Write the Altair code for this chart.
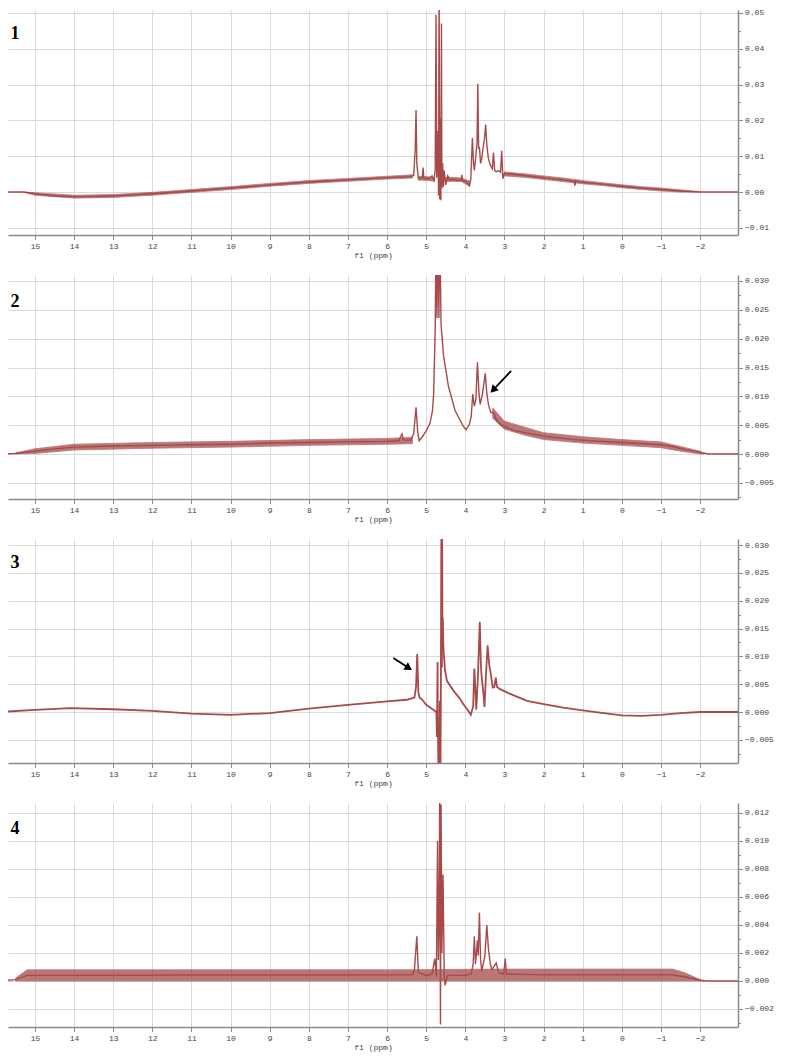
import altair as alt
import pandas as pd

# ---------------- data ----------------
PANEL_LABELS = ["1", "2", "3", "4"]

# Panel 1 trace (ppm, intensity)
P1_PPM = [15.9, 15.3, 15.0, 14.5, 14.0, 13.5, 13.0, 12.5, 12.0, 11.0, 10.0, 9.0, 8.0, 7.0, 6.0, 5.4,
          5.32, 5.28, 5.26, 5.24, 5.2, 5.1, 5.08, 5.06, 4.95, 4.85, 4.8, 4.77, 4.75, 4.73, 4.7, 4.685,
          4.67, 4.655, 4.64, 4.625, 4.61, 4.6, 4.58, 4.56, 4.54, 4.5, 4.45, 4.4, 4.3, 4.2, 4.1, 4.09,
          4.07, 4.0, 3.95, 3.9, 3.86, 3.82, 3.79, 3.77, 3.74, 3.7, 3.68, 3.66, 3.64, 3.61, 3.58, 3.55,
          3.51, 3.48, 3.45, 3.41, 3.36, 3.31, 3.28, 3.25, 3.21, 3.15, 3.1, 3.07, 3.04, 3.0, 2.5, 2.0,
          1.5, 1.22, 1.2, 1.18, 1.0, 0.5, 0.0, -0.5, -1.0, -1.5, -2.0, -2.97]
P1_INT = [0.0, 0.0, -0.0005, -0.0011, -0.0013, -0.0013, -0.0011, -0.0008, -0.0005, 0.0003, 0.0011,
          0.002, 0.0028, 0.0034, 0.004, 0.0043, 0.0046, 0.012, 0.0229, 0.008, 0.0038, 0.004, 0.0068,
          0.0038, 0.0037, 0.0045, 0.0032, 0.006, 0.0495, 0.004, 0.017, -0.001, 0.06, -0.002, 0.0205,
          -0.0023, 0.047, 0.001, 0.008, 0.0015, 0.006, 0.002, 0.0045, 0.0034, 0.0035, 0.0032, 0.0034,
          0.0048, 0.003, 0.003, 0.0025, 0.0017, 0.0035, 0.0151, 0.008, 0.006, 0.009, 0.014, 0.0302,
          0.012, 0.0126, 0.008, 0.0093, 0.012, 0.015, 0.0188, 0.013, 0.0093, 0.0075, 0.0065, 0.011,
          0.006, 0.0056, 0.006, 0.0055, 0.0115, 0.0037, 0.0052, 0.0046, 0.004, 0.0034, 0.003, 0.0018,
          0.003, 0.0027, 0.0022, 0.0016, 0.0011, 0.0007, 0.0003, 0.0, 0.0]
# Panel 1 noise band (segment, ppm, low, high)
P1_BAND_SEG = ["a"] * 12 + ["b"] * 3 + ["c"] * 4 + ["d"] * 11
P1_BAND_PPM = [15.3, 15.0, 14.0, 13.0, 12.0, 11.0, 10.0, 9.0, 8.0, 7.0, 6.0, 5.35,
               5.2, 5.0, 4.8,
               4.5, 4.3, 4.1, 3.88,
               3.0, 2.5, 2.0, 1.5, 1.0, 0.5, 0.0, -0.5, -1.0, -1.5, -2.0]
P1_BAND_LO = [0.0, -0.0009, -0.0017, -0.0015, -0.0009, -0.0001, 0.0007, 0.0016, 0.0024, 0.003, 0.0036, 0.0039,
              0.0033, 0.0033, 0.0030,
              0.0029, 0.003, 0.0029, 0.0016,
              0.0045, 0.0041, 0.0035, 0.0029, 0.0023, 0.0018, 0.0012, 0.0007, 0.0003, 0.0, 0.0]
P1_BAND_HI = [0.0, -0.0002, -0.0009, -0.0007, -0.0001, 0.0007, 0.0015, 0.0024, 0.0032, 0.0038, 0.0044, 0.0048,
              0.0044, 0.0043, 0.0040,
              0.0041, 0.0041, 0.0039, 0.0030,
              0.0056, 0.0051, 0.0045, 0.0039, 0.0032, 0.0026, 0.002, 0.0015, 0.0011, 0.0006, 0.0001]

# Panel 2 trace
P2_PPM = [15.9, 15.5, 15.0, 14.5, 14.0, 13.0, 12.0, 11.0, 10.0, 9.0, 8.0, 7.0, 6.0, 5.7, 5.62, 5.58,
          5.4, 5.32, 5.26, 5.22, 5.18, 5.1, 5.0, 4.9, 4.84, 4.81, 4.77, 4.745, 4.725, 4.7, 4.675, 4.655,
          4.62, 4.56, 4.43, 4.26, 4.05, 3.98, 3.9, 3.85, 3.81, 3.77, 3.73, 3.69, 3.65, 3.62, 3.56, 3.49,
          3.45, 3.41, 3.35, 3.28, 3.2, 3.1, 2.77, 2.0, 1.23, 0.5, 0.0, -1.0, -1.3, -1.6, -2.0, -2.2, -2.97]
P2_INT = [0.0, 0.0001, 0.0005, 0.0009, 0.0012, 0.0014, 0.0015, 0.0016, 0.0017, 0.0019, 0.002, 0.0021,
          0.0022, 0.0023, 0.0035, 0.0024, 0.0024, 0.0035, 0.0081, 0.004, 0.0023, 0.003, 0.004, 0.0054,
          0.0075, 0.0103, 0.0216, 0.04, 0.0236, 0.04, 0.0236, 0.04, 0.0225, 0.0172, 0.0117, 0.0075,
          0.0048, 0.0042, 0.0051, 0.0065, 0.0104, 0.0083, 0.0095, 0.0159, 0.0105, 0.0086, 0.0105, 0.014,
          0.0105, 0.0086, 0.0072, 0.0072, 0.0058, 0.0051, 0.0041, 0.0031, 0.0025, 0.0022, 0.002, 0.0016,
          0.0013, 0.0008, 0.0003, 0.0, 0.0]
P2_BAND_SEG = ["a"] * 8 + ["b"] * 10
P2_BAND_PPM = [15.5, 15.0, 14.0, 12.0, 10.0, 8.0, 6.0, 5.35,
               3.3, 3.0, 2.5, 2.0, 1.0, 0.0, -1.0, -1.5, -2.0, -2.1]
P2_BAND_LO = [0.0, 0.0001, 0.0007, 0.001, 0.0012, 0.0015, 0.0017, 0.0018,
              0.0062, 0.0043, 0.0033, 0.0025, 0.0019, 0.0015, 0.0011, 0.0005, 0.0, 0.0]
P2_BAND_HI = [0.0002, 0.0009, 0.0017, 0.002, 0.0022, 0.0025, 0.0027, 0.0029,
              0.008, 0.0057, 0.0047, 0.0037, 0.003, 0.0025, 0.0021, 0.0013, 0.0005, 0.0]

# Panel 3 trace
P3_PPM = [15.9, 15.0, 14.1, 13.0, 12.0, 11.0, 10.0, 9.0, 8.0, 7.0, 6.0, 5.5, 5.3, 5.26, 5.23, 5.2,
          5.17, 5.1, 5.0, 4.9, 4.8, 4.74, 4.725, 4.71, 4.7, 4.685, 4.675, 4.665, 4.65, 4.635, 4.625,
          4.61, 4.6, 4.595, 4.585, 4.575, 4.56, 4.52, 4.47, 4.3, 4.15, 4.05, 3.95, 3.86, 3.8, 3.77,
          3.74, 3.72, 3.68, 3.63, 3.6, 3.58, 3.54, 3.51, 3.47, 3.43, 3.39, 3.36, 3.3, 3.26, 3.22, 3.19,
          3.11, 2.9, 2.42, 2.0, 1.5, 1.0, 0.56, 0.0, -0.5, -1.0, -1.5, -2.0, -2.97]
P3_INT = [0.0, 0.0004, 0.0007, 0.0005, 0.0002, -0.0003, -0.0005, -0.0002, 0.0006, 0.0013, 0.0019,
          0.0022, 0.0026, 0.0045, 0.0104, 0.0035, 0.0026, 0.0022, 0.0013, 0.0008, 0.0003, 0.0, -0.0045,
          0.009, -0.003, -0.012, -0.004, -0.012, 0.002, -0.012, 0.005, 0.04, 0.008, 0.04, 0.0152,
          0.0169, 0.0115, 0.0075, 0.0056, 0.0038, 0.0025, 0.0014, 0.0005, -0.0005, 0.001, 0.0078,
          0.0035, 0.0004, 0.006, 0.0162, 0.008, 0.0062, 0.0035, 0.0009, 0.007, 0.012, 0.0085, 0.0074,
          0.0044, 0.0045, 0.0062, 0.0045, 0.0041, 0.0034, 0.002, 0.0014, 0.0008, 0.0003, -0.0001,
          -0.0006, -0.0007, -0.0005, -0.0002, 0.0, 0.0]

# Panel 4 trace
P4_PPM = [15.9, 15.5, 15.2, 5.35, 5.3, 5.24, 5.2, 5.0, 4.85, 4.78, 4.74, 4.71, 4.69, 4.67, 4.655,
          4.635, 4.62, 4.6, 4.57, 4.54, 4.52, 4.45, 4.0, 3.85, 3.8, 3.77, 3.74, 3.69, 3.67, 3.64, 3.61,
          3.58, 3.5, 3.45, 3.41, 3.36, 3.32, 3.21, 3.15, 3.02, 2.98, 2.95, 2.0, -1.3, -1.6, -2.0, -2.2,
          -2.97]
P4_INT = [0.0, 0.0001, 0.0004, 0.00044, 0.0008, 0.0032, 0.0006, 0.0004, 0.0005, 0.0016, 0.0003,
          0.01, 0.0015, 0.0047, 0.0128, -0.0031, 0.0126, 0.002, 0.0076, 0.0006, -0.0003, 0.0004, 0.0004,
          0.0005, 0.0012, 0.0032, 0.0012, 0.0029, 0.0018, 0.0049, 0.0015, 0.0007, 0.0018, 0.004, 0.0023,
          0.0012, 0.0008, 0.0013, 0.0006, 0.0005, 0.0016, 0.0005, 0.00044, 0.00044, 0.0003, 0.00005,
          0.0, 0.0]
P4_BAND_SEG = ["a"] * 8
P4_BAND_PPM = [15.5, 15.2, 5.35, 3.3, -1.3, -1.6, -2.0, -2.1]
P4_BAND_LO = [0.0, 0.0, 0.0, 0.0, 0.0, 0.0, 0.0, 0.0]
P4_BAND_HI = [0.0002, 0.0008, 0.0008, 0.00085, 0.00085, 0.0006, 0.0001, 0.0]

# Annotation arrows (tail ppm, tail intensity, head ppm, head intensity)
ARROW_P2 = [2.83, 0.0144, 3.29, 0.0111]
ARROW_P3 = [5.84, 0.0097, 5.445, 0.0079]

# axis tick values
X_TICKS = list(range(-2, 16))
Y1_TICKS = [v / 1000 for v in range(-10, 55, 5)]
Y2_TICKS = [v / 10000 for v in range(-75, 301, 25)]
Y3_TICKS = [v / 10000 for v in range(-75, 301, 25)]
Y4_TICKS = [v / 10000 for v in range(-30, 121, 10)]

# ---------------- styling ----------------
LINE_COLOR = "#a84a4a"
BAND_COLOR = "#a04444"
GRID = "#dadada"
AX = "#8a8a8a"
TXT = "#444444"
FONT = "Liberation Mono"
X_DOMAIN = [15.69, -2.97]
W = 730


def cond(test, a, b):
    return {"condition": {"test": test, "value": a}, "value": b}


def minor_test(step):
    return f"abs(datum.value / {step} - round(datum.value / {step})) > 0.01"


def x_axis():
    return alt.Axis(values=X_TICKS, format="d", grid=True, gridColor=GRID,
                    tickSize=4.5, tickColor=AX, domainColor=AX, domainWidth=1.5,
                    labelFont=FONT, labelFontSize=8, labelColor=TXT, labelPadding=3,
                    labelFlush=False, labelOverlap=False,
                    title="f1 (ppm)", titleFont=FONT, titleFontSize=8, titleFontWeight="normal",
                    titleColor=TXT, titlePadding=1)


def y_axis(ticks, step, fmt):
    minor = minor_test(step)
    return alt.Axis(orient="right", values=ticks, format=fmt, grid=True, gridColor=GRID,
                    gridOpacity=cond(minor, 0, 1), tickSize=cond(minor, 2.5, 4.5),
                    tickColor=AX, domainColor=AX, domainWidth=1.5,
                    labelExpr=f"({minor}) ? '' : datum.label",
                    labelFont=FONT, labelFontSize=8, labelColor=TXT, labelPadding=2,
                    labelFlush=False, labelOverlap=False, title=None)


def panel(idx, ppm, inten, band, ydom, yticks, ystep, yfmt, height, label_y, arrow=None, lw=1.4):
    xs = alt.Scale(domain=X_DOMAIN, nice=False, zero=False)
    ys = alt.Scale(domain=ydom, nice=False, zero=False)
    X = alt.X("ppm:Q", scale=xs, axis=x_axis())
    Y = alt.Y("v:Q", scale=ys, axis=y_axis(yticks, ystep, yfmt))
    layers = []
    if band is not None:
        seg, bp, lo, hi = band
        bdf = pd.DataFrame({"seg": seg, "ppm": bp, "v": lo, "hi": hi})
        layers.append(alt.Chart(bdf).mark_area(color=BAND_COLOR, opacity=0.72, clip=True,
                                               stroke=BAND_COLOR, strokeWidth=0.8,
                                               orient="vertical").encode(
            x=X, y=Y, y2="hi:Q", detail="seg:N"))
    df = pd.DataFrame({"ppm": ppm, "v": inten})
    layers.append(alt.Chart(df).mark_line(color=LINE_COLOR, strokeWidth=lw, clip=True).encode(
        x=X, y=Y, order=alt.Order("ppm:Q", sort="descending")))
    ldf = pd.DataFrame({"t": [PANEL_LABELS[idx]]})
    layers.append(alt.Chart(ldf).mark_text(font="Liberation Serif", fontSize=18, fontWeight="bold",
                                           color="black", align="center", baseline="middle").encode(
        text="t:N", x=alt.value(7), y=alt.value(label_y)))
    if arrow is not None:
        adf = pd.DataFrame({"ppm": [arrow[0]], "v": [arrow[1]], "ppm2": [arrow[2]], "v2": [arrow[3]]})
        layers.append(alt.Chart(adf).mark_rule(color="black", strokeWidth=1.8).encode(
            x=X, y=Y, x2="ppm2:Q", y2="v2:Q"))
        hdf = pd.DataFrame({"ppm": [arrow[2]], "v": [arrow[3]]})
        layers.append(alt.Chart(hdf).mark_point(shape="triangle-up", filled=True, color="black",
                                                opacity=1, size=75, angle=arrow[4]).encode(x=X, y=Y))
    return alt.layer(*layers).properties(width=W, height=height)


p1 = panel(0, P1_PPM, P1_INT, (P1_BAND_SEG, P1_BAND_PPM, P1_BAND_LO, P1_BAND_HI),
           [-0.0120, 0.0508], Y1_TICKS, 0.01, ".2f", 225, 24)
p2 = panel(1, P2_PPM, P2_INT, (P2_BAND_SEG, P2_BAND_PPM, P2_BAND_LO, P2_BAND_HI),
           [-0.0078, 0.03104], Y2_TICKS, 0.005, ".3f", 224, 27, arrow=ARROW_P2 + [224])
p3 = panel(2, P3_PPM, P3_INT, None,
           [-0.00916, 0.03108], Y3_TICKS, 0.005, ".3f", 224, 24, arrow=ARROW_P3 + [122], lw=1.8)
p4 = panel(3, P4_PPM, P4_INT, (P4_BAND_SEG, P4_BAND_PPM, P4_BAND_LO, P4_BAND_HI),
           [-0.003286, 0.012714], Y4_TICKS, 0.002, ".3f", 224, 26)

chart = alt.vconcat(p1, p2, p3, p4, spacing=40, bounds="flush").properties(
    padding=0, background="white"
).configure_view(strokeWidth=0)

chart.save("out.html", embed_options={"renderer": "svg", "actions": False})
